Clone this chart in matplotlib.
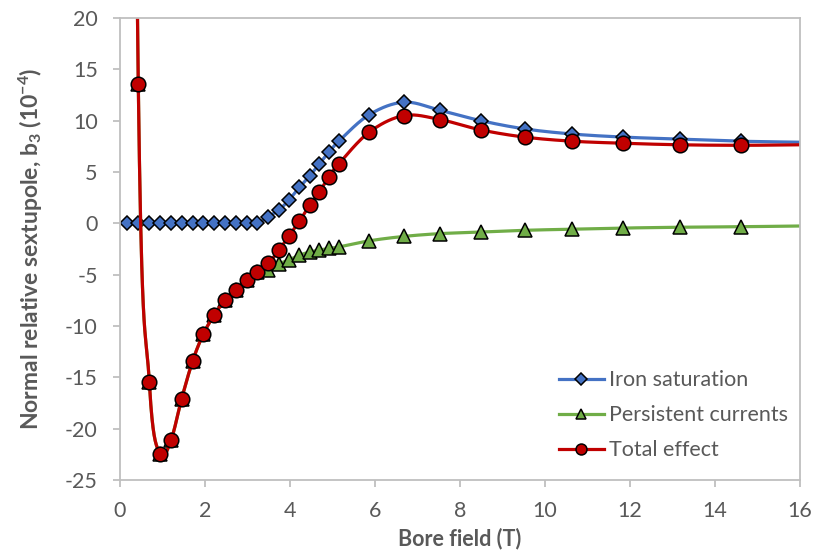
import matplotlib.pyplot as plt
from matplotlib.lines import Line2D
import numpy as np

plt.rcParams['font.family'] = ['Lato', 'DejaVu Sans']
plt.rcParams['mathtext.default'] = 'regular'
plt.rcParams['axes.unicode_minus'] = False

# Bore field (T) and b3 contributions (units of 1e-4)
field = [0.16, 0.43, 0.69, 0.94, 1.20, 1.45, 1.71, 1.96, 2.22, 2.47, 2.72, 2.98,
         3.23, 3.49, 3.74, 3.98, 4.22, 4.46, 4.69, 4.91, 5.15, 5.87, 6.69, 7.54,
         8.49, 9.52, 10.64, 11.84, 13.18, 14.60, 16.0]
iron = [0, 0, 0, 0, 0, 0, 0, 0, 0, 0, 0, 0,
        0, 0.65, 1.3, 2.3, 3.5, 4.6, 5.8, 6.9, 8.0, 10.6, 11.8, 11.0,
        10.0, 9.2, 8.7, 8.4, 8.2, 8.0, 7.9]
persistent = [150, 13.6, -15.5, -22.5, -21.1, -17.1, -13.4, -10.8, -8.9, -7.5, -6.5, -5.5,
              -4.7, -4.5, -3.95, -3.55, -3.1, -2.8, -2.6, -2.45, -2.3, -1.7, -1.27, -1.0,
              -0.85, -0.68, -0.57, -0.46, -0.38, -0.33, -0.26]
total = [150, 13.6, -15.5, -22.5, -21.1, -17.1, -13.4, -10.8, -8.9, -7.5, -6.5, -5.5,
         -4.7, -3.9, -2.6, -1.2, 0.2, 1.75, 3.05, 4.5, 5.8, 8.9, 10.5, 10.1,
         9.1, 8.4, 8.0, 7.8, 7.65, 7.6, 7.65]

labels = ['Iron saturation', 'Persistent currents', 'Total effect']
colors = ['#4472C4', '#70AD47', '#C00000']
markers = ['D', '^', 'o']
msizes = [7.5, 10, 10.5]

GRAY = '#595959'


def smooth(x, y, n=30):
    # Excel-style smoothed line (cubic Bezier through the points)
    p = np.column_stack([x, y]).astype(float)
    pts = [p[0]] + list(p) + [p[-1]]
    t = np.linspace(0, 1, n)[:, None]
    out = []
    for i in range(len(p) - 1):
        p0, p1 = pts[i + 1], pts[i + 2]
        c1 = p0 + (p1 - pts[i]) / 6
        c2 = p1 - (pts[i + 3] - p0) / 6
        seg = (1 - t)**3 * p0 + 3 * (1 - t)**2 * t * c1 + 3 * (1 - t) * t**2 * c2 + t**3 * p1
        out.append(seg)
    out = np.vstack(out)
    return out[:, 0], out[:, 1]


fig = plt.figure(figsize=(8.15, 5.52), dpi=100)
ax = fig.add_axes([120 / 815, 1 - 480 / 552, 680 / 815, 462 / 552])

handles = []
for vals, lab, c, m, ms in zip([iron, persistent, total], labels, colors, markers, msizes):
    sx, sy = smooth(field, vals)
    ax.plot(sx, sy, color=c, lw=2.3, solid_capstyle='round')
    ax.plot(field[:-1], vals[:-1], ls='none', marker=m, ms=ms, mfc=c, mec='black', mew=1.1)
    handles.append(Line2D([], [], color=c, lw=2.3, marker=m, ms=ms * 0.75,
                          mfc=c, mec='black', mew=1.1))

ax.set_xlim(0, 16)
ax.set_ylim(-25, 20)
ax.set_xticks(np.arange(0, 17, 2))
ax.set_yticks(np.arange(-25, 21, 5))
for s in ax.spines.values():
    s.set_color('#BFBFBF')
    s.set_linewidth(1.3)
ax.tick_params(direction='out', length=5, width=1.3, color='#BFBFBF',
               labelcolor=GRAY, labelsize=15.5)
ax.tick_params(axis='x', pad=10)
ax.tick_params(axis='y', pad=11)

ax.set_xlabel('Bore field (T)', fontsize=15.5, fontweight='bold', color=GRAY, labelpad=5)
ax.set_ylabel('Normal relative sextupole, b$_3$ (10$^{-4}$)', fontsize=16.5,
              fontweight='bold', color=GRAY, labelpad=14)

leg = ax.legend(handles, labels, loc='upper left', bbox_to_anchor=(0.645, 0.238),
                frameon=False, fontsize=15.5, handlelength=2.1, handletextpad=0.25,
                labelspacing=0.7, borderpad=0, borderaxespad=0)
for t in leg.get_texts():
    t.set_color(GRAY)

fig.savefig('out.png', dpi=100)
